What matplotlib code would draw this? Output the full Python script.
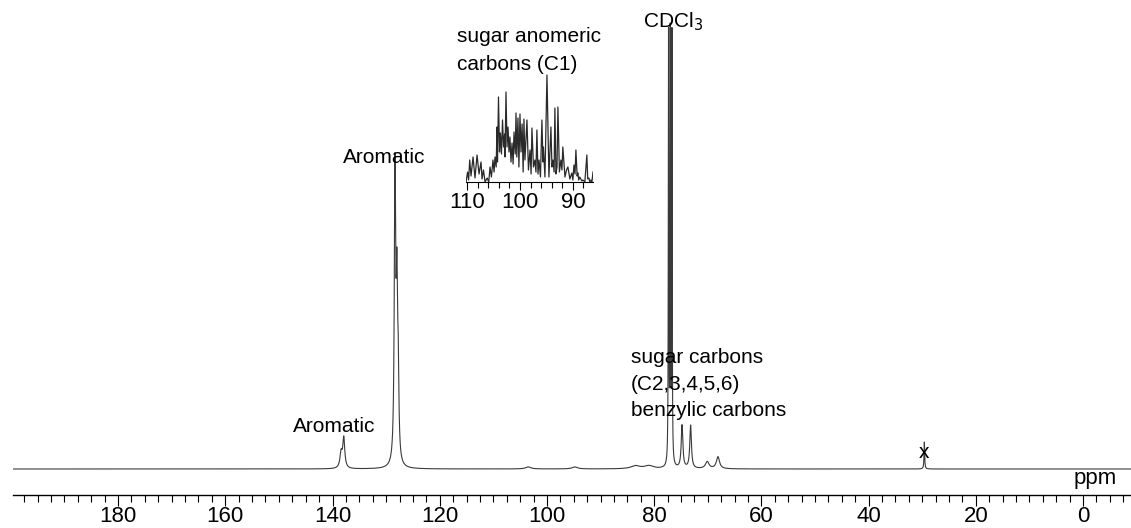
import numpy as np
import matplotlib.pyplot as plt
from matplotlib.ticker import MultipleLocator

plt.rcParams["font.family"] = ["Liberation Sans", "DejaVu Sans"]

# 13C spectrum peak table: position (ppm), height, half width (ppm)
peak_ppm = [138.4, 137.9, 128.35, 128.0, 127.75, 103.5, 94.8, 83.5, 81.0,
            77.32, 77.0, 76.68, 74.8, 73.2, 70.1, 68.1, 29.6]
peak_height = [15, 30, 287, 156, 80, 2, 2, 3, 3,
               428, 425, 428, 43, 43, 7, 12, 27]
peak_width = [0.25, 0.22, 0.15, 0.15, 0.15, 0.6, 0.6, 1.0, 1.0,
              0.05, 0.05, 0.05, 0.18, 0.18, 0.4, 0.35, 0.07]

# anomeric region (inset), spike tops and troughs
inset_ppm = [110.19, 109.9, 109.7, 109.5, 109.25, 108.87, 108.5, 108.11, 107.74, 107.36,
             107.17, 106.9, 106.6, 106.2, 105.9, 105.66, 105.4, 105.1, 104.9, 104.72,
             104.5, 104.34, 104.25, 104.06, 103.87, 103.7, 103.5, 103.3, 103.1, 102.9,
             102.83, 102.64, 102.45, 102.26, 102.08, 101.9, 101.7, 101.5, 101.3, 101.13,
             100.9, 100.75, 100.6, 100.38, 100.2, 100.0, 99.8, 99.6, 99.4, 99.25,
             99.06, 98.68, 98.4, 98.1, 97.9, 97.74, 97.45, 97.17, 96.98, 96.8,
             96.6, 96.4, 96.13, 95.85, 95.66, 95.57, 95.28, 94.9, 94.53, 94.15,
             93.96, 93.77, 93.55, 93.4, 93.2, 93.0, 92.83, 92.55, 92.26, 92.07,
             91.9, 91.5, 91.2, 90.94, 90.57, 90.2, 90.0, 89.8, 89.6, 89.43,
             89.2, 89.06, 88.9, 88.7, 88.3, 88.1, 87.74, 87.36, 87.2, 86.98,
             86.8, 86.6, 86.4, 86.2]
inset_int = [0, 10, 2, 22, 6, 25, 4, 27, 8, 20,
             3, 12, 0, 4, 0, 15, 5, 22, 10, 25,
             15, 55, 20, 85, 30, 49, 28, 62, 35, 48,
             25, 90, 35, 55, 30, 45, 20, 39, 18, 50,
             28, 69, 25, 64, 15, 68, 30, 58, 10, 63,
             22, 62, 12, 32, 8, 54, 15, 22, 10, 52,
             8, 22, 5, 62, 20, 35, 5, 107, 5, 55,
             15, 22, 10, 74, 8, 15, 75, 10, 22, 12,
             35, 5, 12, 15, 3, 9, 2, 17, 8, 32,
             6, 9, 2, 5, 1, 2, 0, 27, 3, 4,
             0, 2, 0, 10]

ppm = np.arange(200.0, -9.0, -0.005)
spec = np.zeros_like(ppm)
for p, h, w in zip(peak_ppm, peak_height, peak_width):
    spec += h * w**2 / ((ppm - p)**2 + w**2)

fig = plt.figure(figsize=(11.31, 5.28), dpi=100)
ax = fig.add_axes([13 / 1131, 33 / 528, 1118 / 1131, 495 / 528])
ax.plot(ppm, spec, color="#3a3a3a", lw=0.8)
ax.set_xlim(199.6, -8.95)
ax.set_ylim(-26, 469)
for s in ["left", "right", "top"]:
    ax.spines[s].set_visible(False)
ax.spines["bottom"].set_linewidth(1.0)
ax.set_yticks([])
ax.xaxis.set_major_locator(MultipleLocator(20))
ax.xaxis.set_minor_locator(MultipleLocator(2.5))
ax.tick_params(axis="x", which="major", length=8, width=0.8, labelsize=16, pad=0)
ax.tick_params(axis="x", which="minor", length=5, width=0.8)

ax.text(-2.2, -15, "ppm", ha="center", va="baseline", fontsize=16)
ax.text(138.0, 306, "Aromatic", ha="left", va="baseline", fontsize=15)
ax.text(147.4, 37, "Aromatic", ha="left", va="baseline", fontsize=15)
ax.text(82.1, 442, r"CDCl$_3$", ha="left", va="baseline", fontsize=15)
ax.text(84.3, 106, "sugar carbons", ha="left", va="baseline", fontsize=15)
ax.text(84.3, 79, "(C2,3,4,5,6)", ha="left", va="baseline", fontsize=15)
ax.text(84.3, 53, "benzylic carbons", ha="left", va="baseline", fontsize=15)
ax.text(116.8, 427, "sugar anomeric", ha="left", va="baseline", fontsize=15)
ax.text(116.8, 399, "carbons (C1)", ha="left", va="baseline", fontsize=15)
ax.text(29.6, 16, "x", ha="center", va="center", fontsize=15)

axin = fig.add_axes([466 / 1131, (528 - 182) / 528, 127 / 1131, 122 / 528])
axin.plot(inset_ppm, inset_int, color="#2a2a2a", lw=0.9)
axin.set_xlim(110.2, 86.2)
axin.set_ylim(0, 122)
axin.patch.set_alpha(0)
for s in ["left", "right", "top"]:
    axin.spines[s].set_visible(False)
axin.set_yticks([])
axin.set_xticks([110, 100, 90])
axin.xaxis.set_minor_locator(MultipleLocator(2))
axin.tick_params(axis="x", which="major", length=6, width=0.8, labelsize=16, pad=1)
axin.tick_params(axis="x", which="minor", length=4, width=0.8)

fig.savefig("out.png", dpi=100)
